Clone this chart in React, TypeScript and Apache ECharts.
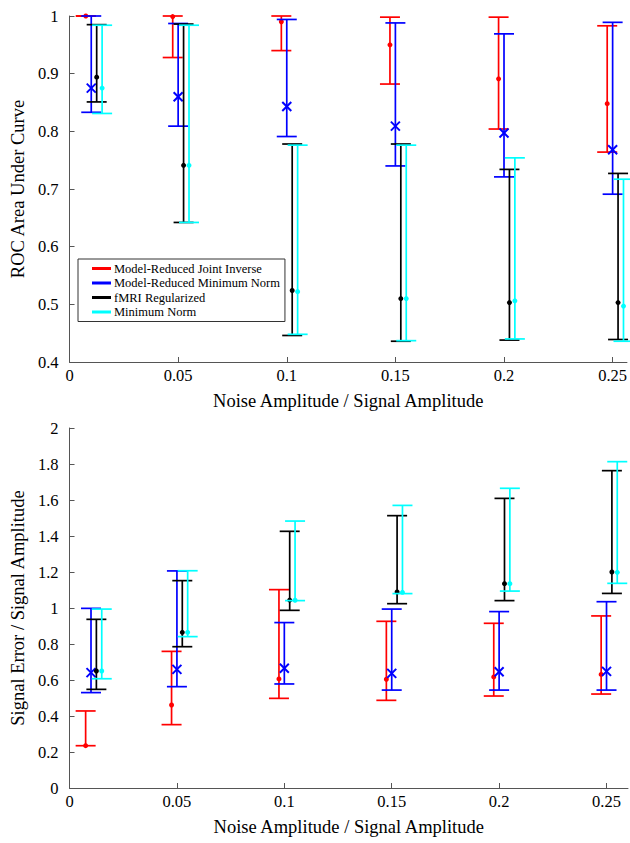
import React, { useEffect, useRef } from 'react';
import * as echarts from 'echarts';

const xTickValues = [0, 0.05, 0.1, 0.15, 0.2, 0.25];
const groupX = [0.01, 0.05, 0.1, 0.15, 0.2, 0.25];
const methodNames = [
  'Model-Reduced Joint Inverse',
  'Model-Reduced Minimum Norm',
  'fMRI Regularized',
  'Minimum Norm',
];
const methodOffsets = [-0.0025, 0, 0.0025, 0.005];
const methodColors = ['#ff0000', '#0000ff', '#000000', '#00ffff'];
const methodMarkers = ['dot', 'cross', 'dot', 'dot'];

// ROC area under curve (top panel)
const rocJointMean = [1.0, 0.999, 0.99, 0.95, 0.891, 0.848];
const rocJointLow = [1.0, 0.928, 0.94, 0.882, 0.804, 0.764];
const rocJointHigh = [1.0, 1.0, 1.0, 0.998, 0.998, 0.983];

const rocMrMnMean = [0.875, 0.86, 0.843, 0.809, 0.797, 0.768];
const rocMrMnLow = [0.833, 0.809, 0.791, 0.74, 0.721, 0.691];
const rocMrMnHigh = [1.0, 0.987, 0.994, 0.988, 0.969, 0.989];

const rocFmriMean = [0.894, 0.741, 0.524, 0.51, 0.503, 0.503];
const rocFmriLow = [0.851, 0.642, 0.446, 0.436, 0.438, 0.439];
const rocFmriHigh = [0.985, 0.986, 0.778, 0.778, 0.734, 0.727];

const rocMnMean = [0.875, 0.741, 0.522, 0.51, 0.506, 0.497];
const rocMnLow = [0.831, 0.642, 0.448, 0.437, 0.44, 0.436];
const rocMnHigh = [0.984, 0.984, 0.776, 0.776, 0.754, 0.717];

// Signal error / signal amplitude (bottom panel)
const errJointMean = [0.235, 0.461, 0.606, 0.604, 0.617, 0.631];
const errJointLow = [0.235, 0.352, 0.498, 0.487, 0.511, 0.522];
const errJointHigh = [0.428, 0.759, 1.102, 0.926, 0.915, 0.956];

const errMrMnMean = [0.641, 0.659, 0.665, 0.637, 0.646, 0.648];
const errMrMnLow = [0.53, 0.563, 0.578, 0.544, 0.544, 0.544];
const errMrMnHigh = [0.998, 1.206, 0.919, 0.994, 0.98, 1.035];

const errFmriMean = [0.65, 0.865, 1.044, 1.089, 1.135, 1.2];
const errFmriLow = [0.548, 0.785, 0.987, 1.024, 1.041, 1.081];
const errFmriHigh = [0.937, 1.152, 1.426, 1.513, 1.609, 1.763];

const errMnMean = [0.65, 0.865, 1.043, 1.087, 1.135, 1.198];
const errMnLow = [0.607, 0.841, 1.041, 1.08, 1.094, 1.137];
const errMnHigh = [0.994, 1.207, 1.483, 1.57, 1.665, 1.813];

const rocSets = [
  [rocJointMean, rocJointLow, rocJointHigh],
  [rocMrMnMean, rocMrMnLow, rocMrMnHigh],
  [rocFmriMean, rocFmriLow, rocFmriHigh],
  [rocMnMean, rocMnLow, rocMnHigh],
];
const errSets = [
  [errJointMean, errJointLow, errJointHigh],
  [errMrMnMean, errMrMnLow, errMrMnHigh],
  [errFmriMean, errFmriLow, errFmriHigh],
  [errMnMean, errMnLow, errMnHigh],
];

const FONT = '"Liberation Serif", "Times New Roman", serif';

function buildSeries(sets: number[][][], axisIndex: number, withName: boolean) {
  return sets.map((set, mi) => {
    const [mean, low, high] = set;
    const color = methodColors[mi];
    const marker = methodMarkers[mi];
    const data = groupX.map((gx, i) => [gx + methodOffsets[mi], mean[i], low[i], high[i]]);
    return {
      type: 'custom',
      name: withName ? methodNames[mi] : methodNames[mi] + ' ',
      xAxisIndex: axisIndex,
      yAxisIndex: axisIndex,
      itemStyle: { color },
      encode: { x: 0, y: [1, 2, 3] },
      clip: false,
      data,
      renderItem: (params: any, api: any) => {
        const x = api.value(0);
        const pm = api.coord([x, api.value(1)]);
        const pl = api.coord([x, api.value(2)]);
        const ph = api.coord([x, api.value(3)]);
        const w = 10;
        const st = { stroke: color, lineWidth: 1.7 };
        const children: any[] = [
          { type: 'line', shape: { x1: pl[0], y1: pl[1], x2: ph[0], y2: ph[1] }, style: st },
          { type: 'line', shape: { x1: pl[0] - w, y1: pl[1], x2: pl[0] + w, y2: pl[1] }, style: st },
          { type: 'line', shape: { x1: ph[0] - w, y1: ph[1], x2: ph[0] + w, y2: ph[1] }, style: st },
        ];
        if (marker === 'cross') {
          const s = 4.5;
          const cs = { stroke: color, lineWidth: 2 };
          children.push(
            { type: 'line', shape: { x1: pm[0] - s, y1: pm[1] - s, x2: pm[0] + s, y2: pm[1] + s }, style: cs },
            { type: 'line', shape: { x1: pm[0] - s, y1: pm[1] + s, x2: pm[0] + s, y2: pm[1] - s }, style: cs }
          );
        } else {
          children.push({ type: 'circle', shape: { cx: pm[0], cy: pm[1], r: 2.5 }, style: { fill: color } });
        }
        return { type: 'group', children };
      },
    };
  });
}

export default function App() {
  const ref = useRef<HTMLDivElement>(null);
  useEffect(() => {
    if (!ref.current) return;
    const chart = echarts.init(ref.current, null, { renderer: 'svg' });
    const axisLineStyle = { color: '#555', width: 1 };
    const xAxisCommon = (gridIndex: number, max: number, nameGap: number) => ({
      type: 'value',
      gridIndex,
      min: 0,
      max,
      interval: 0.05,
      name: 'Noise Amplitude / Signal Amplitude',
      nameLocation: 'middle',
      nameGap,
      nameTextStyle: { fontFamily: FONT, fontSize: 18.5, color: '#000' },
      axisLine: { show: true, lineStyle: axisLineStyle },
      axisTick: { show: true, inside: true, length: 5, lineStyle: axisLineStyle, customValues: xTickValues },
      axisLabel: {
        fontFamily: FONT,
        fontSize: 16.5,
        color: '#000',
        margin: 5,
        customValues: xTickValues,
        formatter: (v: number) => String(Math.round(v * 100) / 100),
      },
      splitLine: { show: false },
    });
    const yAxisCommon = (gridIndex: number, min: number, max: number, interval: number, name: string, nameGap: number) => ({
      type: 'value',
      gridIndex,
      min,
      max,
      interval,
      name,
      nameLocation: 'middle',
      nameGap,
      nameTextStyle: { fontFamily: FONT, fontSize: 18.5, color: '#000' },
      axisLine: { show: true, lineStyle: axisLineStyle },
      axisTick: { show: true, inside: true, length: 5, lineStyle: axisLineStyle },
      axisLabel: {
        fontFamily: FONT,
        fontSize: 16.5,
        color: '#000',
        margin: 11,
        formatter: (v: number) => String(Math.round(v * 10) / 10),
      },
      splitLine: { show: false },
    });

    chart.setOption({
      animation: false,
      backgroundColor: '#fff',
      grid: [
        { left: 67, right: 2, top: 16, height: 346 },
        { left: 65, right: 2, top: 428, height: 360 },
      ],
      xAxis: [xAxisCommon(0, 0.2566, 29), xAxisCommon(1, 0.26, 29.5)],
      yAxis: [
        yAxisCommon(0, 0.4, 1, 0.1, 'ROC Area Under Curve', 40),
        yAxisCommon(1, 0, 2, 0.2, 'Signal Error / Signal Amplitude', 38),
      ],
      legend: {
        show: true,
        orient: 'vertical',
        left: 78,
        top: 259,
        data: methodNames.map((n, i) => ({ name: n, icon: 'rect', itemStyle: { color: methodColors[i] } })),
        itemWidth: 19,
        itemHeight: 3,
        itemGap: 1.5,
        padding: [3, 5, 3, 14],
        borderColor: '#333',
        borderWidth: 1,
        backgroundColor: '#fff',
        selectedMode: false,
        textStyle: { fontFamily: FONT, fontSize: 12.5, color: '#000', lineHeight: 13, padding: [0, 0, 0, -2] },
      },
      series: [...buildSeries(rocSets, 0, true), ...buildSeries(errSets, 1, false)],
    });
    return () => chart.dispose();
  }, []);
  return <div ref={ref} style={{ width: 630, height: 843, position: 'absolute', left: 0, top: 0 }} />;
}
